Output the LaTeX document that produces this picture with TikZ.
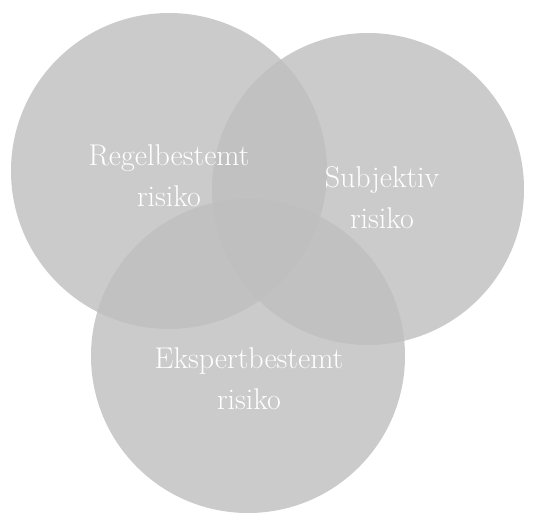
\documentclass[tikz,border=0pt]{standalone}
\begin{document}
\begin{tikzpicture}[x=1pt,y=-1pt,
  venn/.style={circle, fill=circfill, fill opacity=0.8, inner sep=0pt, minimum size=#1},
  lbl/.style={text=white, align=center, font=\fontsize{30}{41}\selectfont}]
\definecolor{circfill}{RGB}{192,191,191}
\useasboundingbox[fill=white] (0,0) rectangle (536,513);
\node[venn=316pt] (regel) at (169,171) {};
\node[venn=312pt] (subj) at (368,189) {};
\node[venn=314pt] (ekspert) at (248,356) {};
\node[lbl] (tregel) at (169,176) {Regelbestemt\\risiko};
\node[lbl] (tsubj) at (382,198) {Subjektiv\\risiko};
\node[lbl] (tekspert) at (249,379) {Ekspertbestemt\\risiko};
\end{tikzpicture}
\end{document}
